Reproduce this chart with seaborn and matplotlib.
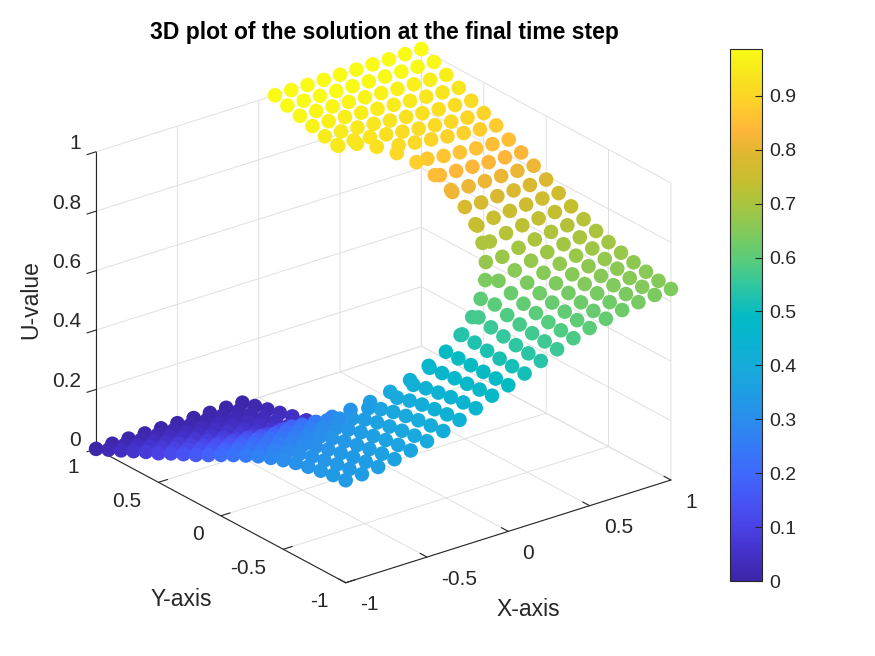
import numpy as np
import pandas as pd
import matplotlib
matplotlib.use("Agg")
import matplotlib.pyplot as plt
import seaborn as sns
from mpl_toolkits.mplot3d import proj3d

n = np.nan

# -----------------------------
# 1. Values
# -----------------------------
x_grid = [-1, -.9, -.8, -.7, -.6, -.5, -.4, -.3, -.2, -.1, 0, .1, .2, .3, .4, .5, .6, .7, .8, .9, 1]
y_grid = [1, .9, .8, .7, .6, .5, .4, .3, .2, .1, 0, -.1, -.2, -.3, -.4, -.5, -.6, -.7, -.8, -.9, -1]

u_rows = [
    [0, 0, 0, 0, 0, 0, 0, 0, 0, 0, n, 1, 1, 1, 1, 1, 1, 1, 1, 1, 1],
    [.020, .019, .018, .017, .016, .015, .014, .013, .012, .011, n, .988, .987, .986, .985, .984, .983, .982, .981, .980, .979],
    [.040, .039, .037, .035, .032, .029, .027, .025, .023, .022, n, .976, .975, .973, .971, .969, .966, .963, .961, .959, .958],
    [.060, .058, .055, .052, .048, .044, .040, .037, .034, .033, n, .964, .963, .960, .957, .953, .949, .945, .942, .939, .937],
    [.080, .077, .074, .070, .065, .060, .054, .049, .045, .044, n, .952, .951, .947, .942, .936, .931, .926, .922, .919, .916],
    [.098, .096, .092, .087, .081, .074, .066, .058, .052, .050, n, .945, .943, .937, .929, .921, .914, .908, .903, .899, .897],
    [.120, .116, .111, .105, .098, .091, .083, n, n, n, n, n, n, n, .915, .907, .900, .893, .887, .882, .878],
    [.140, .138, .135, .131, .126, .118, n, n, n, n, n, n, n, n, n, .875, .867, .862, .858, .855, .853],
    [.160, .159, .158, .156, .153, .150, n, n, n, n, n, n, n, n, n, .842, .839, .836, .834, .833, .832],
    [.182, .182, .182, .182, .182, .184, n, n, n, n, n, n, n, n, n, .808, .810, .810, .810, .810, .810],
    [.205, .206, .207, .209, .213, n, n, n, n, n, n, n, n, n, n, n, .778, .782, .784, .785, .786],
    [.227, .228, .231, .235, .241, .250, n, n, n, n, n, n, n, n, n, .740, .749, .755, .759, .762, .763],
    [.248, .250, .254, .260, .269, .280, n, n, n, n, n, n, n, n, n, .709, .720, .729, .735, .739, .741],
    [.268, .271, .276, .284, .295, .308, n, n, n, n, n, n, n, n, n, .680, .693, .704, .712, .717, .720],
    [.285, .289, .295, .304, .316, .331, .349, n, n, n, n, n, n, n, .639, .657, .672, .684, .693, .699, .703],
    [.300, .304, .311, .321, .334, .350, .368, .389, .415, .455, n, .533, .573, .599, .620, .638, .654, .667, .677, .684, .688],
    [.313, .317, .324, .334, .347, .363, .381, .402, .426, .460, .492, .528, .562, .586, .607, .625, .641, .654, .664, .671, .675],
    [.323, .327, .334, .344, .357, .372, .390, .411, .434, .465, .492, .523, .554, .577, .598, .616, .631, .644, .654, .661, .665],
    [.332, .336, .343, .353, .366, .380, .398, .418, .441, .469, .492, .519, .547, .570, .590, .608, .622, .635, .645, .652, .656],
    [.340, .343, .350, .360, .372, .386, .403, .423, .446, .472, .492, .516, .542, .565, .585, .602, .616, .628, .638, .645, .648],
    [.345, .348, .355, .364, .376, .390, .407, .427, .449, .474, .492, .514, .539, .561, .581, .598, .612, .624, .633, .640, .643],
]

# nodes on the inner circle
circle_x = [.098, .191, .278, .354, .416, .462, .490, .500, .490, .462, .416, .354, .278, .191, .098, 0,
            -.098, -.191, -.278, -.354, -.416, -.462, -.490, -.500, -.490, -.462, -.416, -.354, -.278, -.191, -.098]
circle_y = [.490, .462, .416, .354, .278, .191, .098, 0, -.098, -.191, -.278, -.354, -.416, -.462, -.490, -.500,
            -.490, -.462, -.416, -.354, -.278, -.191, -.098, 0, .098, .191, .278, .354, .416, .462, .490]
circle_u = [.945, .942, .927, .907, .883, .851, .817, .780, .746, .709, .672, .639, .603, .567, .529, .492,
            .459, .421, .386, .351, .318, .283, .250, .220, .190, .155, .125, .093, .073, .058, .055]

z_ticks = [0, .2, .4, .6, .8, 1]
z_labels = ["0", "0.2", "0.4", "0.6", "0.8", "1"]
xy_ticks = [-1, -.5, 0, .5, 1]
xy_labels = ["-1", "-0.5", "0", "0.5", "1"]
bar_ticks = [0, .1, .2, .3, .4, .5, .6, .7, .8, .9]
bar_labels = ["0", "0.1", "0.2", "0.3", "0.4", "0.5", "0.6", "0.7", "0.8", "0.9"]
bar_colors = ["#3e26a8", "#4330c8", "#4a42e6", "#4754f4", "#3f68fc", "#347af6", "#2b8cee",
              "#209ce4", "#17abdc", "#0ab4d0", "#04bbc4", "#2cc5a5", "#55cc7e", "#7dca5e",
              "#a2c643", "#c4bf30", "#dcb830", "#ffb63a", "#fdd02a", "#f8e41f", "#f9fb15"]

# -----------------------------
# 2. Table of points
# -----------------------------
grid = pd.DataFrame(u_rows, index=y_grid, columns=x_grid)
grid = grid.rename_axis(index="y", columns="x").stack().rename("u").reset_index()
ring = pd.DataFrame({"x": circle_x, "y": circle_y, "u": circle_u})
df = pd.concat([grid, ring], ignore_index=True)

# -----------------------------
# 3. Figure
# -----------------------------
sns.set_theme(style="white")
plt.rcParams["font.family"] = ["Liberation Sans", "DejaVu Sans"]
text_color = "#262626"
W, H = 875, 656

fig = plt.figure(figsize=(W / 100, H / 100), dpi=100)
ax_w = 640
left = 383.5 - 0.5135 * ax_w
bottom = H - 315.9 - 0.5135 * ax_w
ax = fig.add_axes([left / W, bottom / H, ax_w / W, ax_w / H], projection="3d")
ax.patch.set_alpha(0)

cmap = sns.blend_palette(bar_colors, as_cmap=True)
sc = ax.scatter(df["x"], df["y"], df["u"], c=df["u"], cmap=cmap, vmin=0, vmax=.987,
                s=110, linewidths=0, depthshade=False, alpha=1)

ax.view_init(elev=24.3, azim=-127.5)
ax.set_proj_type("ortho")
ax.set_box_aspect((410, 410, 326), zoom=1.009)
ax.set_xlim(-1, 1, view_margin=0)
ax.set_ylim(-1, 1, view_margin=0)
ax.set_zlim(0, 1, view_margin=0)
ax.set_xticks(xy_ticks)
ax.set_yticks(xy_ticks)
ax.set_zticks(z_ticks)
ax.zaxis.set_ticks_position("upper")

for axis in (ax.xaxis, ax.yaxis, ax.zaxis):
    axis.set_pane_color((1, 1, 1, 1))
    axis.pane.set_edgecolor((1, 1, 1, 0))
    axis.line.set_color(text_color)
    axis.line.set_linewidth(.8)
    axis._axinfo["grid"].update(color="#e0e0e0", linewidth=.7)
    axis._axinfo["tick"].update(color=text_color, linewidth={True: .8, False: .5},
                                inward_factor=0, outward_factor=.35)
    axis.set_tick_params(label1On=False, label2On=False)
ax.zaxis._axinfo["tick"].update(inward_factor=.35, outward_factor=0)
ax.grid(True)


def tick_text(x, y, z, label, ha):
    # project the data point, then write plain 2D text there
    px, py, _ = proj3d.proj_transform(x, y, z, ax.get_proj())
    ax.text2D(px, py, label, transform=ax.transData, fontsize=15, color=text_color, ha=ha, va="center")


# tick labels sit a fixed data offset away from the box edges, MATLAB style
for v, label in zip(xy_ticks, xy_labels):
    tick_text(v - .104, -1.249, 0, label, "left")
    tick_text(-1.202, v - .128, 0, label, "right")
for v, label in zip(z_ticks, z_labels):
    tick_text(-1, 1.12, v, label, "right")

fig.text(384 / W, 1 - 33 / H, "3D plot of the solution at the final time step", fontsize=16.5,
         fontweight="bold", color="black", ha="center", va="center")
fig.text(528 / W, 1 - 609 / H, "X-axis", fontsize=16.5, color=text_color, ha="center", va="center")
fig.text(181 / W, 1 - 600 / H, "Y-axis", fontsize=16.5, color=text_color, ha="center", va="center")
fig.text(31 / W, 1 - 300 / H, "U-value", fontsize=16.5, color=text_color, ha="center", va="center", rotation=90)

# -----------------------------
# 4. Colorbar
# -----------------------------
cax = fig.add_axes([730 / W, (H - 581) / H, 32 / W, 532 / H])
cb = fig.colorbar(sc, cax=cax)
cb.set_ticks(bar_ticks, labels=bar_labels)
cax.set_axisbelow(False)
cb.ax.tick_params(direction="in", length=5, width=.8, color=text_color, labelsize=14, labelcolor=text_color, pad=5, right=True)
cb.outline.set_edgecolor(text_color)
cb.outline.set_linewidth(.8)

fig.savefig("out.png", dpi=100)
